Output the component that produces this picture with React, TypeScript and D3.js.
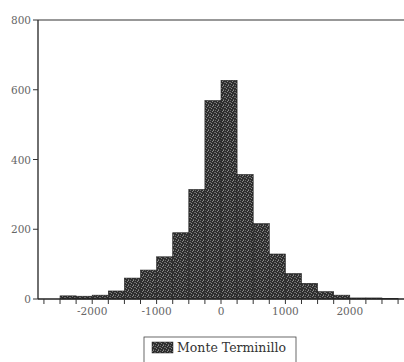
import * as d3 from 'd3';

// histogram bins (left edge of each 250-wide bin) and counts
const binStarts = [-2500, -2250, -2000, -1750, -1500, -1250, -1000, -750, -500, -250, 0, 250, 500, 750, 1000, 1250, 1500, 1750, 2000, 2250, 2500];
const counts = [9, 8, 11, 23, 60, 83, 121, 190, 314, 569, 627, 357, 216, 129, 73, 45, 21, 11, 3, 3, 1];
const binWidth = 250;

const xMinorTicks = d3.range(-2750, 2751, 250);
const xLabels = [-2000, -1000, 0, 1000, 2000];
const yTicks = [0, 200, 400, 600, 800];
const seriesName = 'Monte Terminillo';

const W = 404;
const H = 362;

// speckle positions inside a 5x5 tile, to imitate the printed screen
const grainDots = [[0, 0], [2, 1], [4, 2], [1, 3], [3, 4], [3, 0], [0, 2]];

export default function App() {
  const x = d3.scaleLinear().domain([-2842, 2842]).range([38, 404]);
  const y = d3.scaleLinear().domain([0, 800]).range([299, 20]);
  const font = "'DejaVu Serif', 'Liberation Serif', serif";

  return (
    <svg width={W} height={H} style={{ position: 'absolute', left: 0, top: 0, background: '#fff' }}>
      <defs>
        <pattern id="grain" width="5" height="5" patternUnits="userSpaceOnUse">
          <rect width="5" height="5" fill="#2e2e2e" />
          {grainDots.map(([a, b], i) => (
            <rect key={i} x={a} y={b} width="1" height="1" fill={i % 2 ? '#8a8a8a' : '#6a6a6a'} />
          ))}
        </pattern>
      </defs>

      {/* bars */}
      {binStarts.map((b, i) => (
        <rect
          key={b}
          x={x(b)}
          y={y(counts[i])}
          width={x(b + binWidth) - x(b)}
          height={y(0) - y(counts[i])}
          fill="url(#grain)"
          stroke="#222"
          strokeWidth={0.6}
        />
      ))}

      {/* frame: left, top, bottom */}
      <line x1={x.range()[0]} x2={x.range()[0]} y1={y(800)} y2={y(0)} stroke="#222" strokeWidth={1.3} />
      <line x1={x.range()[0]} x2={W} y1={y(800)} y2={y(800)} stroke="#333" strokeWidth={1.2} />
      <line x1={x.range()[0]} x2={W} y1={y(0)} y2={y(0)} stroke="#222" strokeWidth={1.3} />

      {/* x ticks */}
      {xMinorTicks.map((t) => (
        <line key={t} x1={x(t)} x2={x(t)} y1={y(0)} y2={y(0) + 5} stroke="#333" strokeWidth={1} />
      ))}
      {xLabels.map((t) => (
        <text key={t} x={x(t)} y={y(0) + 16} textAnchor="middle" fontFamily={font} fontSize={10.5} fill="#666">
          {t}
        </text>
      ))}

      {/* y ticks */}
      {yTicks.map((t) => (
        <g key={t}>
          <line x1={x.range()[0] - 5} x2={x.range()[0]} y1={y(t)} y2={y(t)} stroke="#333" strokeWidth={1} />
          <text x={x.range()[0] - 7} y={y(t) + 4} textAnchor="end" fontFamily={font} fontSize={10.5} fill="#666">
            {t}
          </text>
        </g>
      ))}

      {/* legend */}
      <rect x={144} y={337} width={152} height={30} fill="none" stroke="#444" strokeWidth={0.8} />
      <rect x={152} y={342} width={21} height={11} fill="url(#grain)" stroke="#222" strokeWidth={0.5} />
      <text x={177} y={352} fontFamily={font} fontSize={12.5} fill="#333">
        {seriesName}
      </text>
    </svg>
  );
}
